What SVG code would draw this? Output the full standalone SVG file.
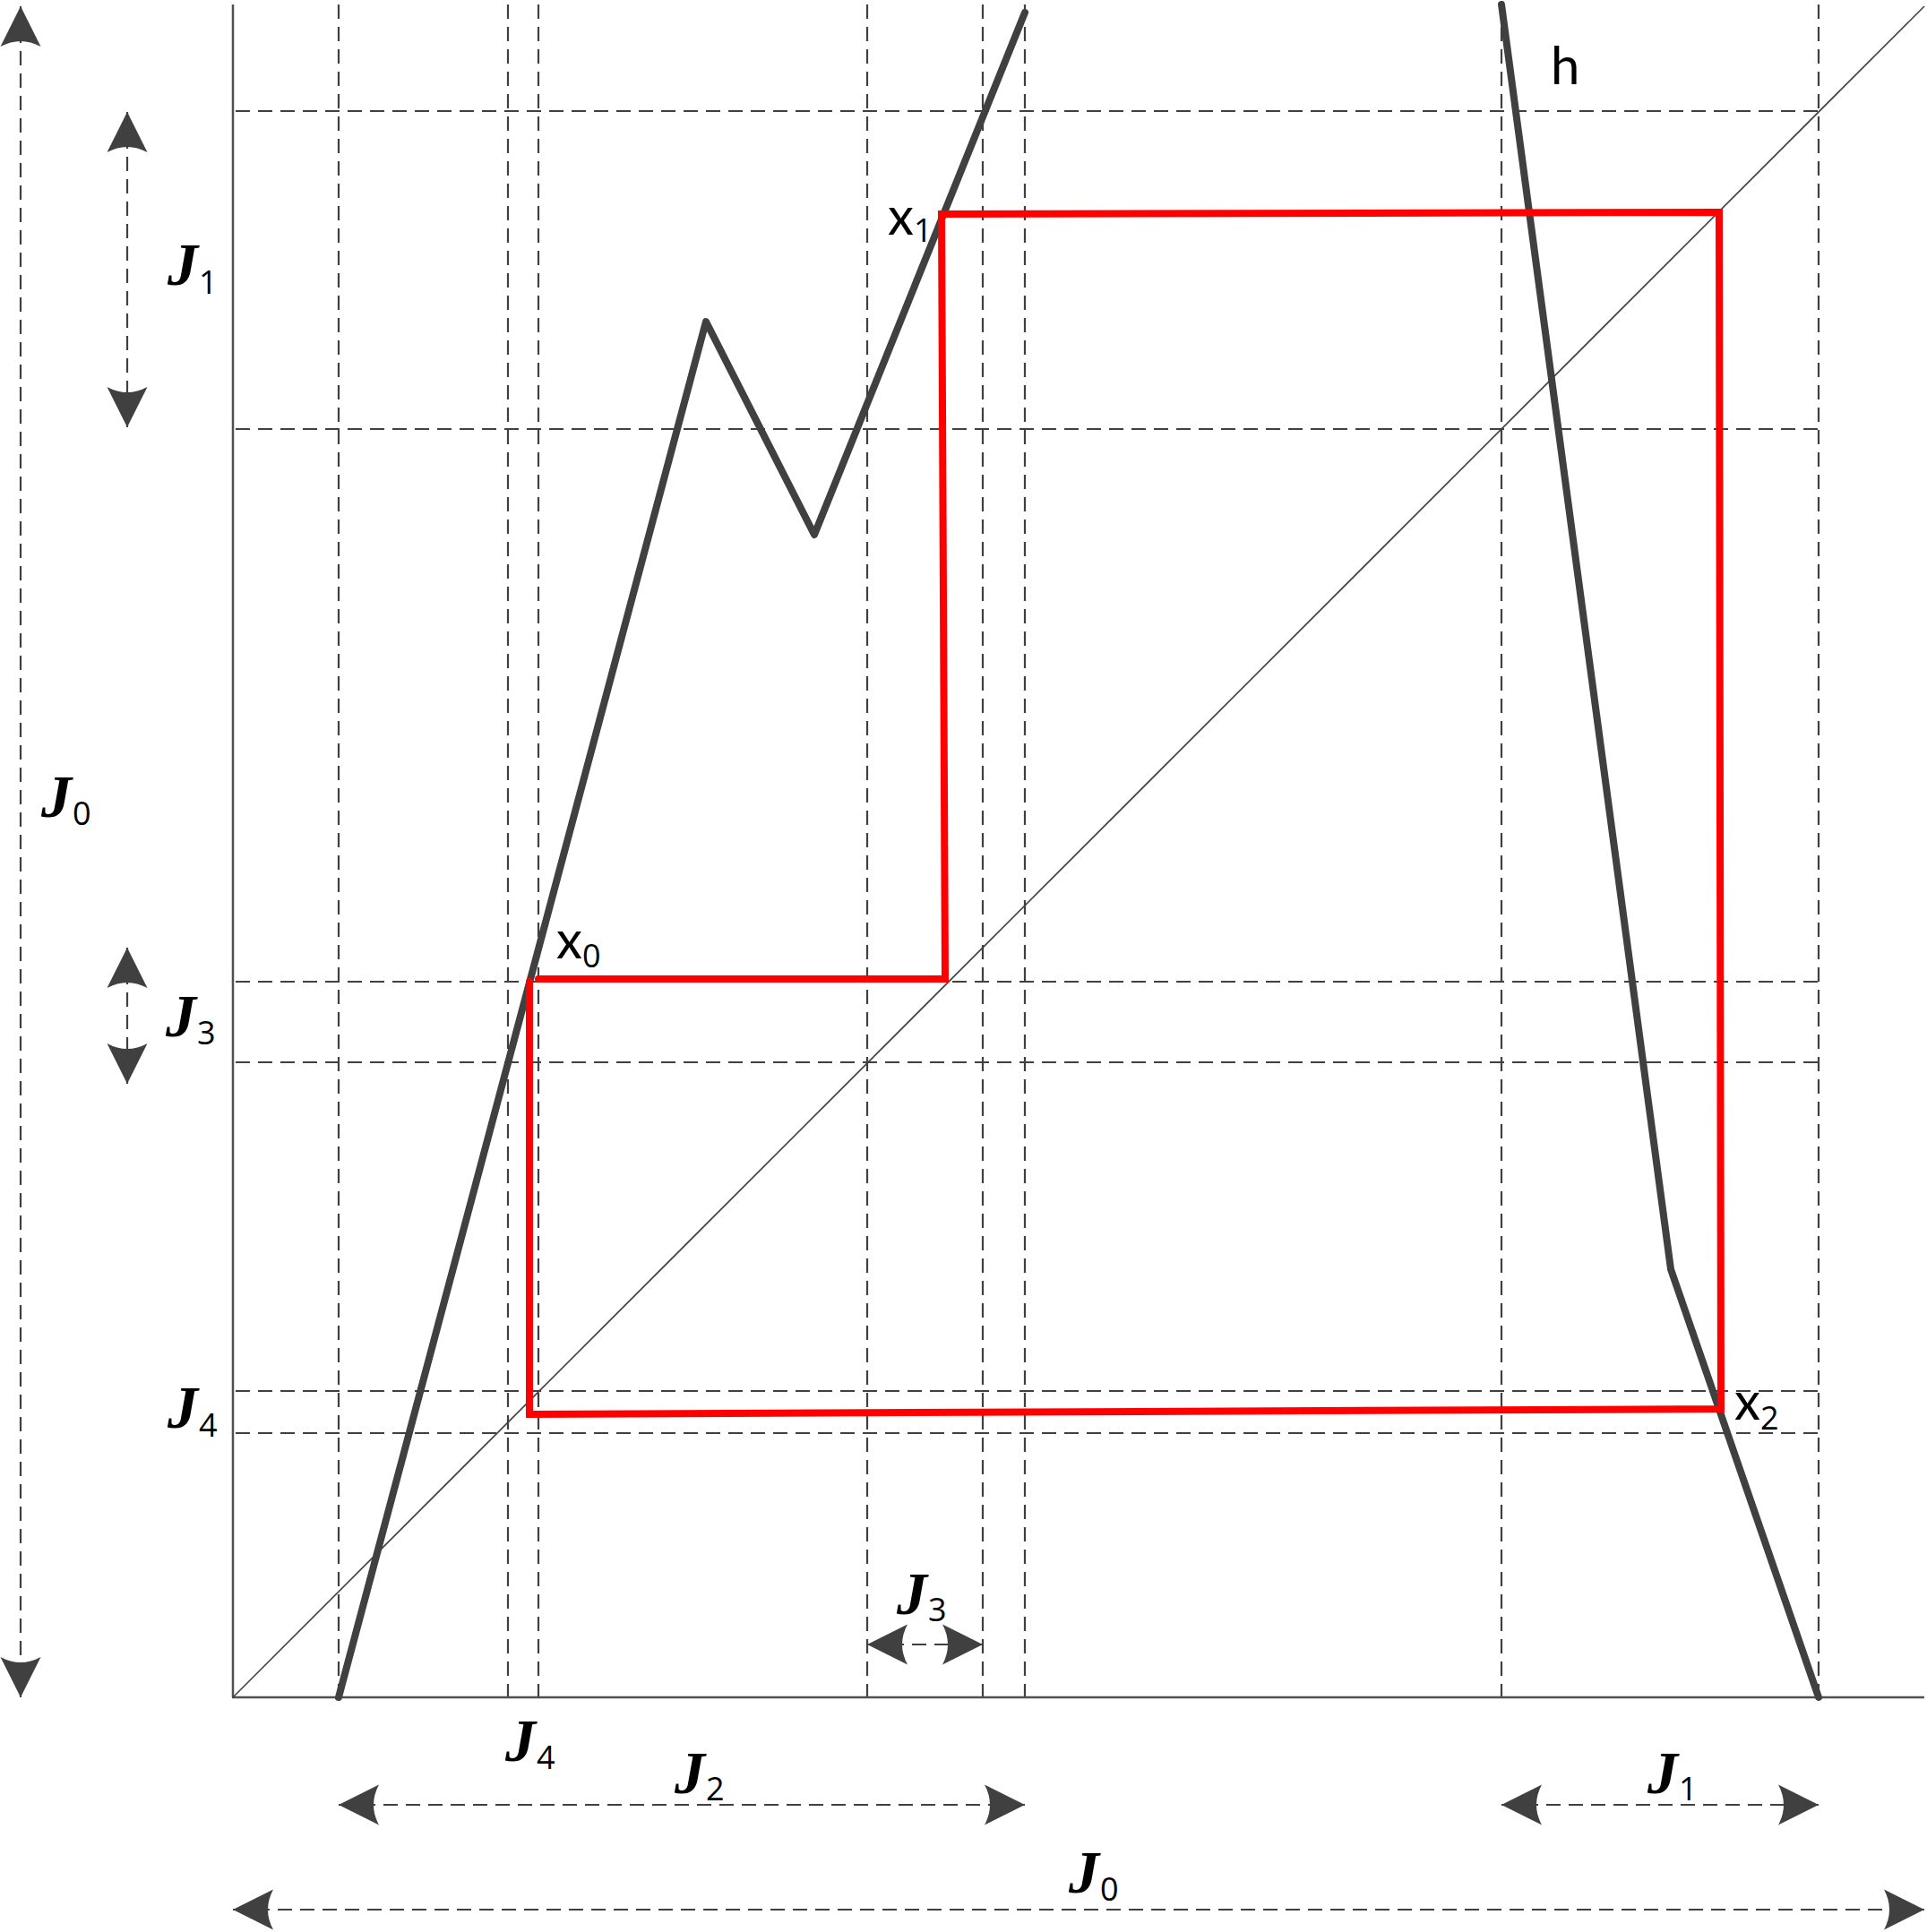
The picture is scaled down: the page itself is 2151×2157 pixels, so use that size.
<svg xmlns="http://www.w3.org/2000/svg" width="2151" height="2157" viewBox="0 0 2151 2157">
<style>
.grid{stroke:#404040;stroke-width:2.2;stroke-dasharray:16 9;fill:none}
.axis{stroke:#505050;stroke-width:2.5;fill:none}
.diag{stroke:#404040;stroke-width:1.6;fill:none}
.curve{stroke:#404040;stroke-width:8;fill:none;stroke-linecap:round;stroke-linejoin:round}
.cob{stroke:#ff0000;stroke-width:8;fill:none;stroke-linecap:round;stroke-linejoin:miter}
.arr{stroke:#404040;stroke-width:2.2;stroke-dasharray:16 9;fill:none;marker-start:url(#ah);marker-end:url(#ah)}
.J{font-family:"Liberation Serif",serif;font-style:italic;font-weight:bold;font-size:68px;fill:#000}
.sub{font-family:"Open Sans",Lato,sans-serif;font-style:normal;font-weight:normal;font-size:36px;fill:#000}
.lab{font-family:Lato,"Open Sans",sans-serif;font-size:58px;fill:#000}
</style>
<defs>
<marker id="ah" markerUnits="userSpaceOnUse" viewBox="-47 -25 49 50" markerWidth="49" markerHeight="50" refX="0" refY="0" orient="auto-start-reverse">
<path d="M0,0 L-45,-22.5 Q-33,0 -45,22.5 Z" fill="#404040"/>
</marker>
</defs>
<rect width="2151" height="2157" fill="#fff"/>
<g id="grid">
<line class="grid" x1="378" y1="5" x2="378" y2="1895"/>
<line class="grid" x1="567" y1="5" x2="567" y2="1895"/>
<line class="grid" x1="601" y1="5" x2="601" y2="1895"/>
<line class="grid" x1="968" y1="5" x2="968" y2="1895"/>
<line class="grid" x1="1097" y1="5" x2="1097" y2="1895"/>
<line class="grid" x1="1144" y1="5" x2="1144" y2="1895"/>
<line class="grid" x1="1676" y1="5" x2="1676" y2="1895"/>
<line class="grid" x1="2030" y1="5" x2="2030" y2="1895"/>
<line class="grid" x1="263" y1="124" x2="2030" y2="124"/>
<line class="grid" x1="263" y1="479" x2="2030" y2="479"/>
<line class="grid" x1="263" y1="1096" x2="2030" y2="1096"/>
<line class="grid" x1="263" y1="1186" x2="2030" y2="1186"/>
<line class="grid" x1="263" y1="1553" x2="2030" y2="1553"/>
<line class="grid" x1="263" y1="1600" x2="2030" y2="1600"/>
</g>
<g id="axes">
<line class="axis" x1="260" y1="5" x2="260" y2="1895"/>
<line class="axis" x1="259" y1="1895" x2="2148" y2="1895"/>
<line class="diag" x1="260" y1="1895" x2="2148" y2="7"/>
</g>
<g id="curve-g">
<polyline class="curve" points="378,1895 788,359 909,597 1144,14"/>
</g>
<g id="curve-h">
<polyline class="curve" points="1676,5 1865,1417 2030,1895"/>
<text class="lab" x="1731" y="94" font-size="60">h</text>
</g>
<g id="cobweb">
<polyline class="cob" points="601,1093 1055,1093 1051,239 1919,237 1921,1573 591,1579 591,1096"/>
</g>
<g id="points">
<text id="x0" class="lab" x="621" y="1070">x<tspan class="sub" dy="10">0</tspan></text>
<text id="x1" class="lab" x="991" y="262">x<tspan class="sub" dy="8">1</tspan></text>
<text id="x2" class="lab" x="1936" y="1585">x<tspan class="sub" dy="11">2</tspan></text>
</g>
<g id="connectors">
<line class="arr" x1="23" y1="7" x2="23" y2="1895"/>
<line class="arr" x1="142" y1="125" x2="142" y2="477"/>
<line class="arr" x1="142" y1="1058" x2="142" y2="1210"/>
<line class="arr" x1="968" y1="1836" x2="1097" y2="1836"/>
<line class="arr" x1="378" y1="2015" x2="1144" y2="2015"/>
<line class="arr" x1="1676" y1="2015" x2="2030" y2="2015"/>
<line class="arr" x1="260" y1="2132" x2="2148" y2="2132"/>
</g>
<g id="labels">
<text id="lJ0" class="J" x="46" y="912">J<tspan class="sub" dx="1" dy="9">0</tspan></text>
<text id="lJ1" class="J" x="187" y="318">J<tspan class="sub" dx="1" dy="10">1</tspan></text>
<text id="lJ3" class="J" x="185" y="1157">J<tspan class="sub" dx="1" dy="9">3</tspan></text>
<text id="lJ4" class="J" x="187" y="1594">J<tspan class="sub" dx="1" dy="10">4</tspan></text>
<text id="bJ4" class="J" x="564" y="1966">J<tspan class="sub" dx="1" dy="9">4</tspan></text>
<text id="bJ2" class="J" x="753" y="2002">J<tspan class="sub" dx="1" dy="8">2</tspan></text>
<text id="bJ3" class="J" x="1001" y="1802">J<tspan class="sub" dx="1" dy="8">3</tspan></text>
<text id="bJ1" class="J" x="1839" y="2002">J<tspan class="sub" dx="1" dy="8">1</tspan></text>
<text id="bJ0" class="J" x="1193" y="2113">J<tspan class="sub" dx="1" dy="9">0</tspan></text>
</g>
</svg>
